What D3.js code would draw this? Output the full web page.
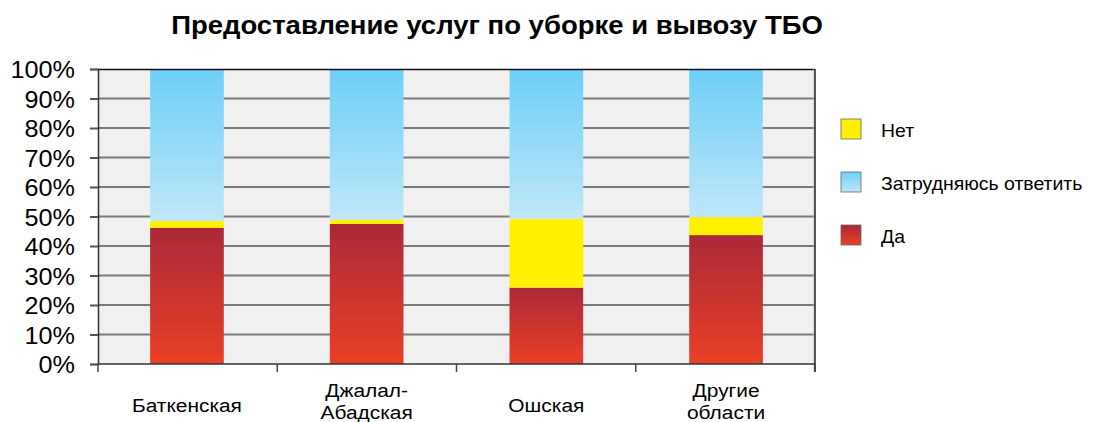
<!DOCTYPE html>
<html>
<head>
<meta charset="utf-8">
<script src="https://cdn.jsdelivr.net/npm/d3@7"></script>
<style>
  body { margin: 0; background: #fff; }
  text { font-family: "Liberation Sans", Arial, sans-serif; fill: #000; }
</style>
</head>
<body>
<svg id="chart" width="1094" height="422"></svg>
<script>
// data (percent of respondents)
const regions = [["Баткенская"], ["Джалал-", "Абадская"], ["Ошская"], ["Другие", "области"]];
const yes = [46.1, 47.5, 25.9, 43.7];
const no = [2.4, 1.5, 23.3, 6.1];
const unsure = [51.5, 51.0, 50.8, 50.2];
const seriesNames = ["Да", "Нет", "Затрудняюсь ответить"];
const yTicks = [0, 10, 20, 30, 40, 50, 60, 70, 80, 90, 100];

const svg = d3.select("#chart");
const margin = {top: 69, right: 279, bottom: 58, left: 98};
const width = +svg.attr("width") - margin.left - margin.right;
const height = +svg.attr("height") - margin.top - margin.bottom;

// gradients
const defs = svg.append("defs");
function grad(id, top, bottom) {
  const g = defs.append("linearGradient").attr("id", id)
    .attr("x1", 0).attr("y1", 0).attr("x2", 0).attr("y2", 1);
  g.append("stop").attr("offset", "0%").attr("stop-color", top);
  g.append("stop").attr("offset", "100%").attr("stop-color", bottom);
}
grad("gYes", "#ab2938", "#ea4027");
grad("gNo", "#fff200", "#fff200");
grad("gUnsure", "#6dcff6", "#c0e7fa");
const fills = {"Да": "url(#gYes)", "Нет": "url(#gNo)", "Затрудняюсь ответить": "url(#gUnsure)"};

// the original text is a bit wider than Liberation Sans, so stretch it horizontally
const SX = 1.1;

svg.append("g").attr("transform", `translate(497,34) scale(${SX},1)`)
  .append("text")
  .attr("text-anchor", "middle")
  .style("font-size", "25px").style("font-weight", "bold")
  .text("Предоставление услуг по уборке и вывозу ТБО");

const g = svg.append("g").attr("transform", `translate(${margin.left},${margin.top})`);

const x = d3.scaleBand().domain(d3.range(regions.length)).range([0, width]).paddingInner(0.59).paddingOuter(0.29);
const y = d3.scaleLinear().domain([0, 100]).range([height, 0]);

g.append("rect").attr("width", width).attr("height", height).attr("fill", "#f0f0f0");

// gridlines
g.selectAll(".grid").data(yTicks.slice(1, -1)).enter().append("line")
  .attr("x1", 0).attr("x2", width)
  .attr("y1", d => y(d)).attr("y2", d => y(d))
  .attr("stroke", "#7a7a7a").attr("stroke-width", 2);

// stacked bars
const rows = regions.map((r, i) => ({i, "Да": yes[i], "Нет": no[i], "Затрудняюсь ответить": unsure[i]}));
const stack = d3.stack().keys(seriesNames)(rows);
g.selectAll(".layer").data(stack).enter().append("g")
  .attr("fill", d => fills[d.key])
  .selectAll("rect").data(d => d).enter().append("rect")
  .attr("x", d => x(d.data.i))
  .attr("width", x.bandwidth())
  .attr("y", d => y(d[1]))
  .attr("height", d => y(d[0]) - y(d[1]));

// frame
g.append("line").attr("x1", 0).attr("x2", width).attr("y1", 0.5).attr("y2", 0.5).attr("stroke", "#111").attr("stroke-width", 1.5);
g.append("line").attr("x1", width - 1).attr("x2", width - 1).attr("y1", 0).attr("y2", height + 8).attr("stroke", "#c8c8c8").attr("stroke-width", 1);
g.append("line").attr("x1", width).attr("x2", width).attr("y1", 0).attr("y2", height + 8).attr("stroke", "#222").attr("stroke-width", 1.5);

// y axis
const yAxis = g.append("g").call(d3.axisLeft(y).tickValues(yTicks).tickSize(8).tickFormat(() => ""));
yAxis.select(".domain").attr("stroke", "#333").attr("stroke-width", 1.5);
yAxis.selectAll(".tick line").attr("stroke", "#555").attr("stroke-width", 2);
yAxis.selectAll(".tick").append("g")
  .attr("transform", `translate(-23,0) scale(1.05,1)`)
  .append("text")
  .attr("text-anchor", "end").attr("dy", "0.36em")
  .style("font-size", "24px")
  .text(d => d + "%");

// x axis
const xb = g.append("g").attr("transform", `translate(0,${height})`);
xb.append("line").attr("x1", 0).attr("x2", width).attr("stroke", "#333").attr("stroke-width", 1.5);
const step = width / regions.length;
xb.selectAll(".xt").data(d3.range(regions.length + 1)).enter().append("line")
  .attr("x1", d => d * step).attr("x2", d => d * step)
  .attr("y1", 0).attr("y2", 8).attr("stroke", "#444").attr("stroke-width", 1.5);
const xl = xb.selectAll(".xl").data(regions).enter().append("g")
  .attr("transform", (d, i) => `translate(${x(i) + x.bandwidth() / 2},0) scale(${SX},1)`)
  .append("text")
  .attr("text-anchor", "middle")
  .style("font-size", "19px");
xl.selectAll("tspan").data(d => d).enter().append("tspan")
  .attr("x", 0)
  .attr("y", (d, j, n) => n.length === 1 ? 48 : 33 + j * 22)
  .text(d => d);

// legend
const legendItems = ["Нет", "Затрудняюсь ответить", "Да"];
const lg = svg.append("g").attr("transform", "translate(841,119)");
const li = lg.selectAll("g").data(legendItems).enter().append("g")
  .attr("transform", (d, i) => `translate(0,${i * 53})`);
li.append("rect").attr("width", 20).attr("height", 20)
  .attr("fill", d => fills[d]).attr("stroke", "#666").attr("stroke-width", 0.8);
li.append("g").attr("transform", `translate(40,18) scale(1.08,1)`)
  .append("text").style("font-size", "18px").text(d => d);
</script>
</body>
</html>
